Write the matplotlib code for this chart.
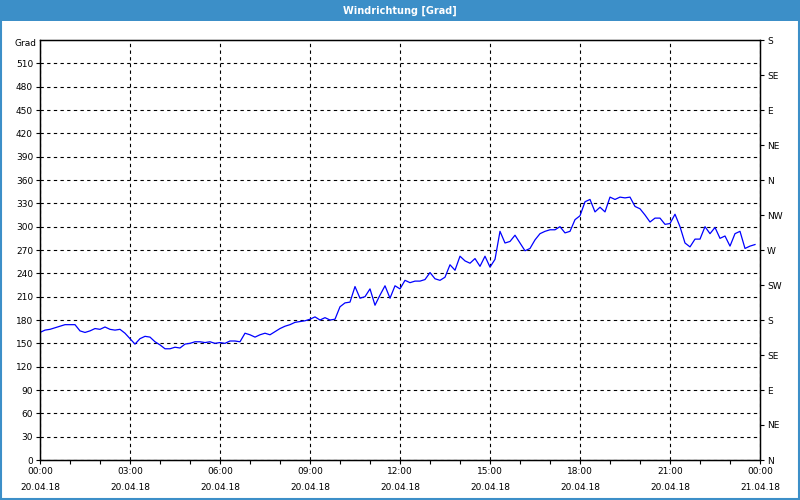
import pandas as pd
import matplotlib
matplotlib.use('Agg')
import matplotlib.pyplot as plt
import matplotlib.dates as mdates
from matplotlib.patches import Rectangle

# Windrichtung, 10-Minuten-Werte vom 20.04.18
wind_dir = [
    164, 167, 168, 170, 172, 174, 174, 174, 166, 164,
    166, 169, 168, 171, 168, 167, 168, 163, 156, 149,
    156, 159, 158, 152, 148, 143, 143, 145, 144, 149,
    150, 152, 152, 151, 152, 150, 151, 150, 153, 153,
    152, 163, 161, 158, 161, 163, 161, 165, 169, 172,
    174, 177, 178, 179, 181, 184, 180, 183, 180, 181,
    197, 202, 203, 223, 208, 210, 220, 199, 212, 224,
    208, 224, 220, 231, 228, 230, 230, 232, 241, 233,
    231, 235, 251, 244, 262, 256, 253, 259, 249, 262,
    248, 258, 294, 279, 281, 289, 279, 269, 272, 283,
    291, 294, 296, 296, 300, 292, 294, 309, 314, 332,
    335, 319, 325, 319, 338, 335, 338, 337, 338, 326,
    323, 315, 306, 311, 311, 303, 304, 316, 300, 279,
    274, 284, 284, 300, 291, 299, 285, 288, 275, 291,
    294, 272, 275, 277,
]
times = pd.date_range('2018-04-20 00:00', periods=len(wind_dir), freq='10min')

y_ticks = list(range(0, 540, 30))
compass_ticks = list(range(0, 541, 45))
compass_labels = ['N', 'NE', 'E', 'SE', 'S', 'SW', 'W', 'NW', 'N', 'NE', 'E', 'SE', 'S']

fig = plt.figure(figsize=(8, 5), dpi=100)
fig.patch.set_facecolor('white')

# Titelleiste
bar_col = '#3c8fc8'
fig.patches.append(Rectangle((0, 0.958), 1, 0.042, transform=fig.transFigure,
                             facecolor=bar_col, edgecolor='none', zorder=0))
fig.patches.append(Rectangle((0.001, 0.002), 0.998, 0.996, transform=fig.transFigure,
                             facecolor='none', edgecolor=bar_col, linewidth=1.5, zorder=0))
fig.text(0.5, 0.979, 'Windrichtung [Grad]', ha='center', va='center',
         color='white', fontsize=7, fontweight='bold')

ax = fig.add_axes([0.05, 0.08, 0.9, 0.84])
ax.plot(times, wind_dir, color='#0000ff', linewidth=0.9)

ax.set_xlim(pd.Timestamp('2018-04-20 00:00'), pd.Timestamp('2018-04-21 00:00'))
ax.set_ylim(0, 540)
ax.set_yticks(y_ticks)
ax.xaxis.set_major_locator(mdates.HourLocator(byhour=range(0, 24, 3)))
ax.xaxis.set_minor_locator(mdates.HourLocator())
ax.xaxis.set_major_formatter(mdates.DateFormatter('%H:%M\n%d.%m.%y'))

ax.grid(True, which='major', color='black', linestyle=(0, (3, 3)), linewidth=0.8)
ax.tick_params(axis='both', which='both', labelsize=6.5, length=3, width=0.8, pad=2)
ax.tick_params(axis='x', which='major', pad=2)
for lbl in ax.get_xticklabels():
    lbl.set_linespacing(2.0)

for sp in ax.spines.values():
    sp.set_linewidth(1.0)

ax2 = ax.twinx()
ax2.set_ylim(0, 540)
ax2.set_yticks(compass_ticks)
ax2.set_yticklabels(compass_labels)
ax2.tick_params(axis='y', labelsize=6.5, length=3, width=0.8, pad=2)

fig.text(0.046, 0.912, 'Grad', ha='right', va='center', fontsize=6.5)

fig.savefig('out.png', dpi=100)
